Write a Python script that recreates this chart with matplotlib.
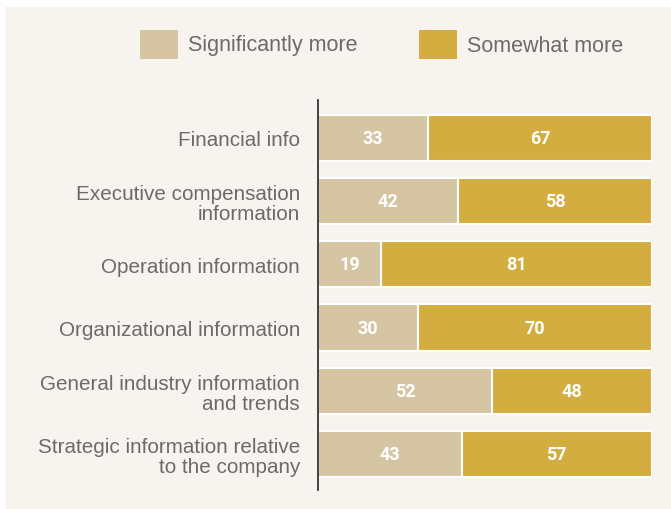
import matplotlib
matplotlib.use("Agg")
import matplotlib.pyplot as plt
from matplotlib.patches import Rectangle

categories = [
    "Financial info",
    "Executive compensation\ninformation",
    "Operation information",
    "Organizational information",
    "General industry information\nand trends",
    "Strategic information relative\nto the company",
]
significantly_more = [33, 42, 19, 30, 52, 43]
somewhat_more = [67, 58, 81, 70, 48, 57]
series_names = ["Significantly more", "Somewhat more"]

LIGHT = "#d6c5a2"
GOLD = "#d4ad40"
PANEL = "#f7f4ef"
TEXT = "#6b6b6b"

W, H = 671, 510
fig = plt.figure(figsize=(W / 100, H / 100), dpi=100)
fig.patch.set_facecolor("white")
fig.patches.append(Rectangle((5 / W, 0.0), 1 - 5 / W, 1 - 8 / H,
                             transform=fig.transFigure, facecolor=PANEL,
                             edgecolor="none", zorder=-10))

ax = fig.add_axes([318 / W, 19 / H, 334 / W, 390 / H])
ax.set_facecolor("none")

y = list(range(len(categories)))
ax.barh(y, significantly_more, height=0.73, color=LIGHT,
        edgecolor="white", linewidth=1.5)
ax.barh(y, somewhat_more, left=significantly_more, height=0.73, color=GOLD,
        edgecolor="white", linewidth=1.5)

num_font = dict(family="Roboto", weight="bold", fontsize=13, color="white")
for i, (a, b) in enumerate(zip(significantly_more, somewhat_more)):
    ax.text(a / 2, i, str(a), ha="center", va="center", **num_font)
    ax.text(a + b / 2, i, str(b), ha="center", va="center", **num_font)

ax.set_xlim(0, 100)
ax.set_ylim(len(categories) - 1 + 0.57, -0.6)
ax.set_yticks(y)
ax.set_yticklabels(categories, fontsize=14.9, color=TEXT,
                   family="Liberation Sans", linespacing=1.05)
ax.tick_params(axis="y", length=0, pad=13)
ax.set_xticks([])
for side in ("top", "right", "bottom"):
    ax.spines[side].set_visible(False)
ax.spines["left"].set_color("#222222")
ax.spines["left"].set_linewidth(1.2)

# legend drawn as swatches and labels in figure coordinates
for x0, color, name in [(140, LIGHT, series_names[0]), (419, GOLD, series_names[1])]:
    fig.patches.append(Rectangle((x0 / W, 1 - 60 / H), 38 / W, 29 / H,
                                 transform=fig.transFigure, facecolor=color,
                                 edgecolor="none"))
    fig.text((x0 + 48) / W, 1 - 46 / H, name, ha="left", va="center",
             fontsize=15.5, color=TEXT, family="Liberation Sans")

fig.savefig("out.png", dpi=100, facecolor=fig.get_facecolor())
